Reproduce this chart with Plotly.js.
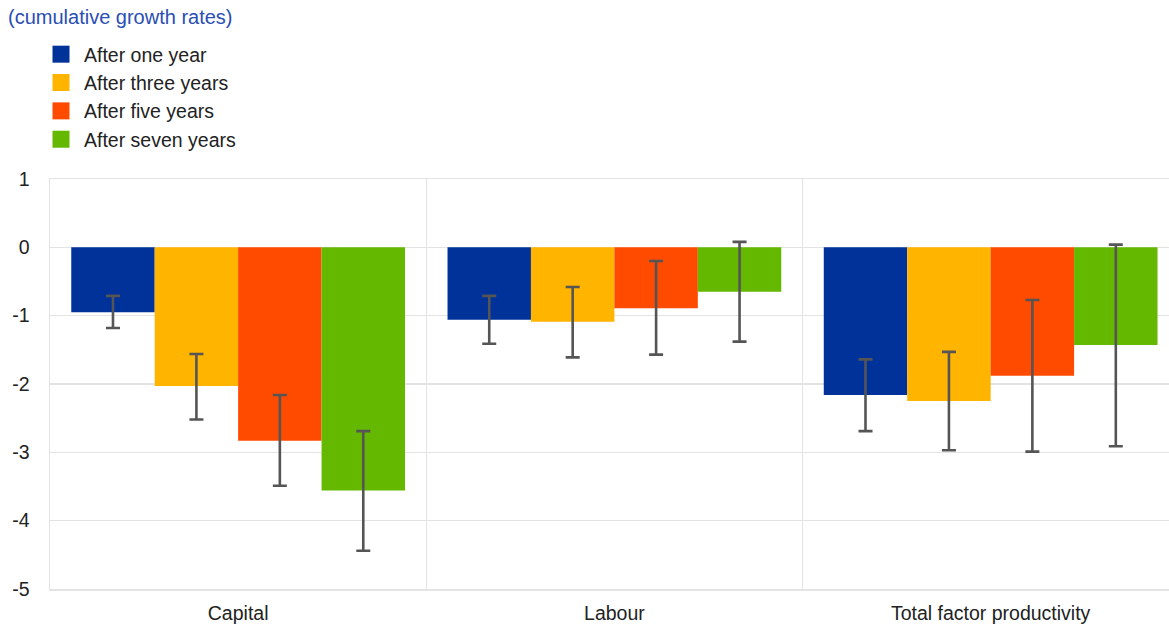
<!DOCTYPE html>
<html>
<head>
<meta charset="utf-8">
<script src="https://cdn.plot.ly/plotly-3.0.1.min.js"></script>
<style>html,body{margin:0;padding:0;background:#fff;}#chart{width:1169px;height:624px;}</style>
</head>
<body>
<div id="chart"></div>
<script>
const categories = ["Capital", "Labour", "Total factor productivity"];
const seriesNames = ["After one year", "After three years", "After five years", "After seven years"];
const seriesColors = ["#003299", "#FFB400", "#FF4B00", "#65B800"];
const yTickValues = [-5, -4, -3, -2, -1, 0, 1];
const yTickLabels = ["-5", "-4", "-3", "-2", "-1", "0", "1"];

// point estimates
const afterOneYear   = [-0.95, -1.06, -2.16];
const afterThreeYears = [-2.03, -1.09, -2.25];
const afterFiveYears  = [-2.83, -0.89, -1.88];
const afterSevenYears = [-3.56, -0.65, -1.43];

// upper bounds of confidence bands
const upperOneYear    = [-0.71, -0.71, -1.64];
const upperThreeYears = [-1.56, -0.58, -1.53];
const upperFiveYears  = [-2.16, -0.20, -0.77];
const upperSevenYears = [-2.69, 0.08, 0.04];

// lower bounds of confidence bands
const lowerOneYear    = [-1.18, -1.41, -2.69];
const lowerThreeYears = [-2.52, -1.61, -2.97];
const lowerFiveYears  = [-3.49, -1.57, -2.99];
const lowerSevenYears = [-4.44, -1.38, -2.91];

const values = [afterOneYear, afterThreeYears, afterFiveYears, afterSevenYears];
const uppers = [upperOneYear, upperThreeYears, upperFiveYears, upperSevenYears];
const lowers = [lowerOneYear, lowerThreeYears, lowerFiveYears, lowerSevenYears];

const font = "Liberation Sans, Arial, sans-serif";
const fs = 19.5;

const traces = values.map((v, i) => ({
  type: "bar",
  name: seriesNames[i],
  x: categories,
  y: v,
  marker: {color: seriesColors[i], line: {width: 0}},
  legendgroup: "g" + i,
  error_y: {
    type: "data",
    symmetric: false,
    array: v.map((y, j) => +(uppers[i][j] - y).toFixed(3)),
    arrayminus: v.map((y, j) => +(y - lowers[i][j]).toFixed(3)),
    color: "#555555",
    thickness: 2.6,
    width: 7
  },
  hoverinfo: "name+y"
}));

const layout = {
  width: 1169,
  height: 624,
  margin: {l: 50, r: 0, t: 179, b: 35, autoexpand: false},
  paper_bgcolor: "#ffffff",
  plot_bgcolor: "#ffffff",
  font: {family: font, size: fs, color: "#222222"},
  barmode: "group",
  bargap: 0.113,
  bargroupgap: 0,
  title: {
    text: "(cumulative growth rates)",
    font: {family: font, size: 20, color: "#2a4eb3"},
    x: 8 / 1169, xref: "container", xanchor: "left",
    y: 1 - 17 / 624, yref: "container", yanchor: "middle",
    automargin: false
  },
  showlegend: true,
  legend: {
    x: 38 / 1169, xref: "container", xanchor: "left",
    y: 1 - 35 / 624, yref: "container", yanchor: "top",
    font: {family: font, size: fs, color: "#222222"},
    traceorder: "grouped",
    tracegroupgap: 0,
    itemwidth: 36,
    bgcolor: "rgba(0,0,0,0)"
  },
  xaxis: {
    type: "category",
    range: [-0.5, 2.474],
    tickson: "boundaries",
    showgrid: true,
    gridcolor: "#e3e3e3",
    gridwidth: 1.5,
    showline: true,
    mirror: true,
    linecolor: "#e3e3e3",
    linewidth: 1.5,
    ticks: "",
    ticklabelstandoff: 6,
    tickfont: {family: font, size: fs, color: "#222222"},
    fixedrange: true
  },
  yaxis: {
    range: [-5, 1],
    tickvals: yTickValues,
    ticktext: yTickLabels,
    showgrid: true,
    gridcolor: "#e3e3e3",
    gridwidth: 1.5,
    zeroline: true,
    zerolinecolor: "#e3e3e3",
    zerolinewidth: 1.5,
    showline: true,
    linecolor: "#e3e3e3",
    linewidth: 1.5,
    ticks: "",
    ticklabelstandoff: 15,
    tickfont: {family: font, size: fs, color: "#222222"},
    fixedrange: true
  }
};

Plotly.newPlot("chart", traces, layout, {displayModeBar: false, staticPlot: true}).then(gd => {
  // enlarge legend swatches to match the reference's larger squares
  gd.querySelectorAll(".legend .legendpoints path").forEach(p => {
    p.setAttribute("d", "M8.5,8.5H-8.5V-8.5H8.5Z");
  });
});
</script>
</body>
</html>
